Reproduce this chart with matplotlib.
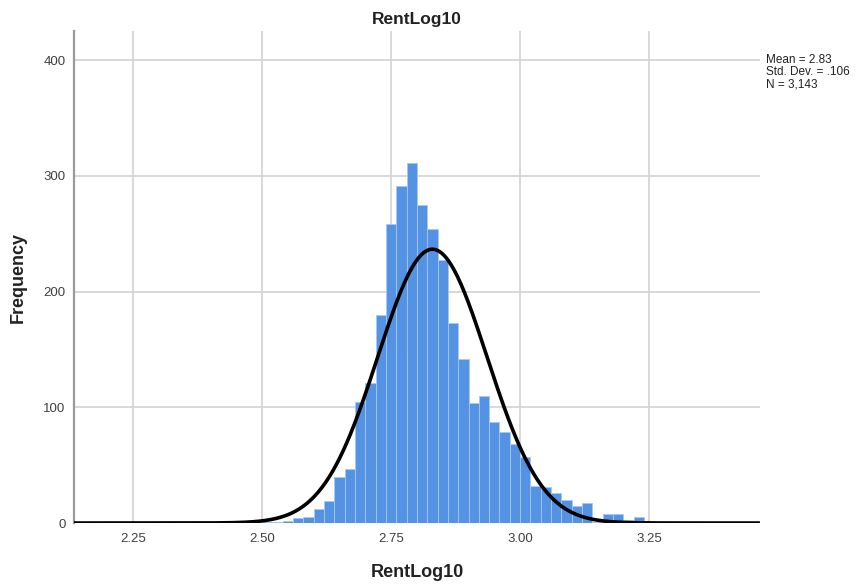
import numpy as np
import matplotlib
matplotlib.use("Agg")
from matplotlib import pyplot as plt

plt.rcParams['font.family'] = ['Liberation Sans', 'DejaVu Sans']

# histogram bins (width 0.02), left edges and counts
bin_width = 0.02
bin_start = 2.38
counts = [1, 0, 0, 0, 0, 0, 1, 1, 2, 4, 5, 12, 19, 40, 47, 105, 121, 180,
          258, 291, 311, 275, 254, 227, 173, 142, 104, 110, 87, 79, 68, 57,
          32, 31, 26, 20, 15, 17, 1, 8, 8, 3, 5, 1]
lefts = [bin_start + i * bin_width for i in range(len(counts))]

# normal curve parameters shown in the chart
MEAN = 2.83
SD = 0.106
N = 3143

xticks = [2.25, 2.50, 2.75, 3.00, 3.25]
yticks = [0, 100, 200, 300, 400]

fig = plt.figure(figsize=(8.65, 5.88), dpi=100)
ax = fig.add_axes([0.0855, 0.1105, 0.793, 0.8365])

ax.bar(lefts, counts, width=bin_width, align='edge', color='#5493e3',
       edgecolor='#a8c8f0', linewidth=0.6, zorder=2)

xlo, xhi = 2.135, 3.465
xs = np.linspace(xlo, xhi, 600)
ys = N * bin_width * np.exp(-0.5 * ((xs - MEAN) / SD) ** 2) / (SD * np.sqrt(2 * np.pi))
ax.plot(xs, ys, color='black', lw=2.6, zorder=3, solid_capstyle='butt')

ax.set_xlim(xlo, xhi)
ax.set_ylim(0, 425)
ax.set_xticks(xticks)
ax.set_xticklabels(['%.2f' % t for t in xticks])
ax.set_yticks(yticks)
ax.tick_params(length=0, labelsize=9.5, labelcolor='#404040')
ax.tick_params(axis='x', pad=7)
ax.tick_params(axis='y', pad=6)

ax.set_axisbelow(True)
ax.grid(True, color='#d2d2d2', lw=1.2)
for s in ['top', 'right', 'bottom']:
    ax.spines[s].set_visible(False)
ax.spines['left'].set_color('#9a9a9a')
ax.spines['left'].set_linewidth(1.6)

ax.set_title('RentLog10', fontsize=12.5, fontweight='bold', color='#222222', pad=5)
ax.set_xlabel('RentLog10', fontsize=13, fontweight='bold', color='#222222', va='center')
ax.set_ylabel('Frequency', fontsize=13, fontweight='bold', color='#222222', va='center')
ax.xaxis.set_label_coords(0.5, -0.1016)
ax.yaxis.set_label_coords(-0.0816, 0.5)

stats = 'Mean = 2.83\nStd. Dev. = .106\nN = 3,143'
fig.text(766 / 865, 1 - 54 / 588, stats, fontsize=8.5, color='#222222',
         va='top', ha='left', linespacing=1.05)

fig.savefig('out.png', dpi=100)
